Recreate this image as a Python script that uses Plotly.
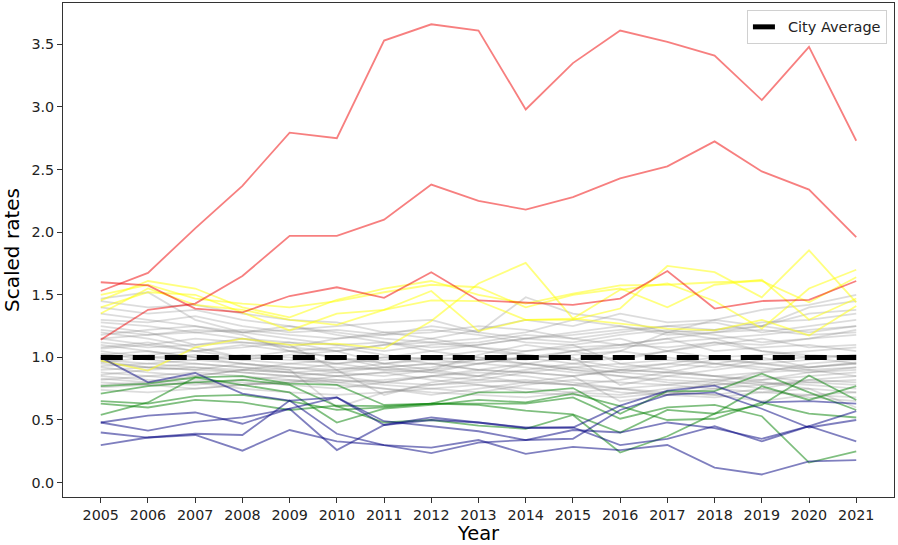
import plotly.graph_objects as go

years = list(range(2005, 2022))

red_series = [
    [1.53, 1.675, 2.03, 2.37, 2.795, 2.75, 3.53, 3.66, 3.61, 2.98, 3.35, 3.61, 3.52, 3.41, 3.055, 3.48, 2.73],
    [1.14, 1.38, 1.43, 1.65, 1.97, 1.97, 2.10, 2.38, 2.25, 2.18, 2.28, 2.43, 2.525, 2.725, 2.485, 2.34, 1.96],
    [1.60, 1.575, 1.39, 1.36, 1.49, 1.56, 1.475, 1.68, 1.455, 1.44, 1.42, 1.47, 1.69, 1.39, 1.45, 1.46, 1.61],
]

yellow_series = [
    [1.455, 1.61, 1.55, 1.40, 1.32, 1.46, 1.55, 1.61, 1.50, 1.43, 1.51, 1.575, 1.58, 1.60, 1.61, 1.44, 1.64],
    [1.40, 1.52, 1.50, 1.36, 1.215, 1.35, 1.38, 1.53, 1.21, 1.30, 1.30, 1.39, 1.73, 1.68, 1.48, 1.855, 1.44],
    [1.35, 1.55, 1.42, 1.38, 1.30, 1.26, 1.38, 1.455, 1.45, 1.30, 1.31, 1.27, 1.23, 1.215, 1.30, 1.175, 1.41],
    [0.975, 0.895, 1.08, 1.15, 1.10, 1.11, 1.07, 1.29, 1.59, 1.755, 1.31, 1.54, 1.59, 1.45, 1.23, 1.55, 1.70],
    [1.50, 1.58, 1.47, 1.43, 1.40, 1.45, 1.52, 1.58, 1.56, 1.40, 1.50, 1.55, 1.40, 1.58, 1.62, 1.30, 1.47],
]

green_series = [
    [0.77, 0.79, 0.84, 0.85, 0.79, 0.78, 0.62, 0.63, 0.72, 0.72, 0.755, 0.55, 0.73, 0.73, 0.87, 0.72, 0.58],
    [0.71, 0.77, 0.80, 0.82, 0.78, 0.61, 0.48, 0.50, 0.455, 0.43, 0.54, 0.24, 0.37, 0.55, 0.62, 0.855, 0.66],
    [0.65, 0.63, 0.69, 0.70, 0.65, 0.58, 0.60, 0.63, 0.63, 0.63, 0.68, 0.51, 0.60, 0.62, 0.53, 0.16, 0.25],
    [0.63, 0.60, 0.66, 0.64, 0.58, 0.615, 0.61, 0.63, 0.62, 0.575, 0.545, 0.40, 0.58, 0.55, 0.77, 0.66, 0.77],
    [0.54, 0.64, 0.84, 0.78, 0.72, 0.48, 0.59, 0.62, 0.66, 0.64, 0.71, 0.61, 0.50, 0.51, 0.64, 0.55, 0.52],
]

blue_series = [
    [1.00, 0.80, 0.875, 0.71, 0.655, 0.68, 0.46, 0.52, 0.48, 0.435, 0.44, 0.615, 0.735, 0.775, 0.64, 0.65, 0.63],
    [0.48, 0.415, 0.485, 0.52, 0.59, 0.68, 0.49, 0.45, 0.41, 0.34, 0.35, 0.58, 0.70, 0.72, 0.59, 0.44, 0.50],
    [0.40, 0.36, 0.39, 0.38, 0.655, 0.39, 0.30, 0.235, 0.32, 0.34, 0.42, 0.40, 0.48, 0.435, 0.35, 0.45, 0.33],
    [0.30, 0.36, 0.38, 0.255, 0.42, 0.33, 0.30, 0.28, 0.34, 0.23, 0.285, 0.26, 0.30, 0.12, 0.065, 0.17, 0.18],
    [0.48, 0.535, 0.56, 0.47, 0.59, 0.26, 0.46, 0.50, 0.48, 0.44, 0.44, 0.30, 0.35, 0.45, 0.33, 0.45, 0.57],
]

gray_series = [
    [1.47, 1.52, 1.30, 1.20, 1.15, 1.10, 1.05, 1.10, 1.12, 1.18, 1.15, 1.20, 1.25, 1.22, 1.28, 1.30, 1.35],
    [1.45, 1.40, 1.42, 1.35, 1.30, 1.28, 1.20, 1.15, 1.22, 1.30, 1.25, 1.35, 1.28, 1.30, 1.38, 1.42, 1.50],
    [1.30, 1.28, 1.33, 1.25, 1.20, 1.22, 1.18, 1.25, 1.20, 1.48, 1.35, 1.30, 1.20, 1.22, 1.25, 1.40, 1.45],
    [1.25, 1.20, 1.10, 1.15, 1.08, 1.05, 0.95, 0.90, 1.02, 1.10, 1.05, 0.98, 1.05, 1.12, 1.10, 1.15, 1.22],
    [1.22, 1.18, 1.20, 1.15, 1.12, 1.10, 1.12, 1.05, 1.00, 0.98, 1.05, 1.10, 1.15, 1.05, 1.08, 1.10, 1.05],
    [1.20, 1.15, 1.08, 1.00, 0.98, 0.95, 1.00, 1.05, 1.10, 1.15, 1.20, 1.25, 1.18, 1.20, 1.22, 1.18, 1.20],
    [1.18, 1.22, 1.25, 1.18, 1.05, 1.00, 0.92, 0.88, 0.95, 1.00, 0.95, 0.90, 0.88, 0.95, 1.00, 0.92, 0.95],
    [1.15, 1.10, 1.05, 1.08, 1.12, 1.05, 1.10, 1.15, 1.08, 1.02, 0.98, 1.05, 1.20, 1.30, 1.25, 1.35, 1.38],
    [1.12, 1.08, 1.10, 1.12, 1.08, 1.15, 1.20, 1.22, 1.18, 1.12, 1.10, 1.15, 1.05, 1.10, 1.15, 1.08, 1.10],
    [1.10, 1.05, 1.00, 0.95, 0.92, 0.88, 0.85, 0.90, 0.95, 0.92, 0.88, 0.85, 0.82, 0.80, 0.88, 0.90, 0.85],
    [1.08, 1.12, 1.05, 1.00, 1.05, 1.08, 1.02, 0.98, 0.95, 1.00, 1.05, 1.08, 1.12, 1.15, 1.05, 1.00, 1.02],
    [1.05, 1.00, 0.98, 1.02, 1.00, 0.95, 0.90, 0.92, 0.98, 1.05, 1.10, 0.95, 0.90, 0.85, 0.88, 0.95, 0.98],
    [1.03, 0.98, 0.95, 0.92, 0.90, 0.95, 0.98, 1.00, 1.05, 1.02, 0.98, 0.92, 0.95, 1.00, 1.02, 1.05, 1.08],
    [1.00, 1.02, 1.05, 1.10, 1.05, 1.00, 0.95, 0.98, 1.00, 0.95, 0.90, 0.88, 0.92, 0.98, 0.95, 0.90, 0.92],
    [0.98, 0.95, 0.92, 0.90, 0.95, 0.98, 1.00, 0.95, 0.90, 0.88, 0.85, 0.90, 0.95, 0.92, 0.98, 1.00, 0.95],
    [0.96, 1.00, 1.02, 0.98, 0.95, 0.92, 0.90, 0.88, 0.85, 0.90, 0.95, 1.00, 1.05, 1.00, 0.95, 0.98, 1.02],
    [0.95, 0.92, 0.90, 0.88, 0.85, 0.82, 0.80, 0.85, 0.90, 0.95, 0.92, 0.88, 0.85, 0.82, 0.78, 0.80, 0.82],
    [0.93, 0.95, 0.98, 0.95, 0.92, 0.90, 0.92, 0.95, 0.98, 1.00, 1.02, 1.05, 1.00, 0.95, 0.92, 0.88, 0.90],
    [0.92, 0.88, 0.85, 0.90, 0.88, 0.85, 0.88, 0.90, 0.85, 0.80, 0.78, 0.82, 0.88, 0.85, 0.82, 0.85, 0.88],
    [0.90, 0.92, 0.95, 0.92, 0.88, 0.90, 0.95, 1.00, 0.98, 0.95, 0.90, 0.85, 0.80, 0.78, 0.82, 0.88, 0.92],
    [0.88, 0.85, 0.82, 0.80, 0.78, 0.75, 0.80, 0.85, 0.82, 0.80, 0.85, 0.90, 0.88, 0.85, 0.80, 0.78, 0.75],
    [0.86, 0.90, 0.92, 0.88, 0.85, 0.88, 0.92, 0.95, 0.90, 0.88, 0.92, 0.95, 0.98, 0.95, 0.90, 0.92, 0.95],
    [0.85, 0.82, 0.80, 0.78, 0.80, 0.82, 0.78, 0.75, 0.72, 0.78, 0.82, 0.80, 0.78, 0.75, 0.78, 0.82, 0.85],
    [0.83, 0.80, 0.78, 0.82, 0.85, 0.80, 0.75, 0.70, 0.75, 0.80, 0.78, 0.72, 0.70, 0.75, 0.72, 0.70, 0.68],
    [0.82, 0.85, 0.88, 0.85, 0.82, 0.80, 0.82, 0.85, 0.88, 0.85, 0.80, 0.75, 0.78, 0.82, 0.85, 0.80, 0.78],
    [0.80, 0.78, 0.75, 0.78, 0.80, 0.85, 0.88, 0.82, 0.78, 0.75, 0.72, 0.70, 0.75, 0.78, 0.80, 0.75, 0.72],
    [0.78, 0.80, 0.85, 0.90, 0.88, 0.85, 0.80, 0.78, 0.80, 0.82, 0.78, 0.75, 0.72, 0.70, 0.65, 0.70, 0.72],
    [0.76, 0.78, 0.80, 0.75, 0.72, 0.70, 0.72, 0.75, 0.78, 0.72, 0.70, 0.68, 0.72, 0.70, 0.75, 0.68, 0.65],
    [0.74, 0.72, 0.75, 0.78, 0.82, 0.78, 0.75, 0.72, 0.70, 0.68, 0.72, 0.75, 0.70, 0.68, 0.72, 0.75, 0.60],
    [1.35, 1.30, 1.25, 1.20, 1.22, 1.25, 1.28, 1.30, 1.20, 1.15, 1.18, 1.22, 1.25, 1.28, 1.20, 1.25, 1.30],
    [1.40, 1.35, 1.38, 1.30, 1.25, 1.20, 1.15, 1.12, 1.15, 1.20, 1.30, 1.25, 1.20, 1.15, 1.18, 1.22, 1.25],
    [1.28, 1.25, 1.20, 1.22, 1.18, 1.15, 1.18, 1.20, 1.25, 1.22, 1.15, 1.10, 1.08, 1.12, 1.05, 1.02, 1.00],
    [1.15, 1.18, 1.22, 1.20, 1.25, 1.18, 1.12, 1.08, 1.10, 1.15, 1.12, 1.18, 1.22, 1.18, 1.12, 1.15, 1.18],
    [1.07, 1.10, 1.15, 1.12, 1.10, 0.90, 0.70, 0.80, 0.85, 0.95, 1.00, 0.78, 0.85, 0.90, 0.95, 0.92, 0.96],
    [0.97, 0.92, 0.90, 0.95, 0.90, 0.60, 0.72, 0.78, 0.82, 0.88, 0.85, 0.65, 0.70, 0.80, 0.75, 0.82, 0.80],
    [1.02, 1.05, 1.00, 0.98, 1.02, 1.05, 1.10, 1.12, 1.08, 1.05, 1.08, 1.10, 1.15, 1.20, 1.25, 1.20, 1.25],
]

city_average = [1.0] * len(years)

y_ticks = [0.0, 0.5, 1.0, 1.5, 2.0, 2.5, 3.0, 3.5]

FONT = "DejaVu Sans"

fig = go.Figure()

def add_group(series_list, color, width=1.8):
    for s in series_list:
        fig.add_trace(go.Scatter(x=years, y=s, mode="lines",
                                 line=dict(color=color, width=width),
                                 showlegend=False, hoverinfo="skip"))

add_group(gray_series, "rgba(128,128,128,0.28)")
add_group(yellow_series, "rgba(255,255,0,0.5)")
add_group(green_series, "rgba(0,128,0,0.5)")
add_group(blue_series, "rgba(0,0,128,0.5)")
add_group(red_series, "rgba(240,0,0,0.5)")

fig.add_trace(go.Scatter(x=years, y=city_average, mode="lines", name="City Average",
                         line=dict(color="black", width=5, dash="22px,10px")))

fig.update_layout(
    width=898, height=545,
    margin=dict(l=63, r=4, t=3, b=48),
    paper_bgcolor="white", plot_bgcolor="white",
    font=dict(family=FONT, size=14, color="#222222"),
    legend=dict(x=0.9915, y=0.986, xanchor="right", yanchor="top",
                bgcolor="white", bordercolor="#d0d0d0", borderwidth=1,
                font=dict(family=FONT, size=14.5, color="#222222")),
    xaxis=dict(range=[2004.2, 2021.8], tickmode="array", tickvals=years,
               ticktext=[str(y) for y in years], showgrid=False, zeroline=False,
               ticks="outside", ticklen=5, tickcolor="#333333",
               showline=True, linecolor="#333333", linewidth=1, mirror=True,
               title=dict(text="Year", font=dict(size=19.5, color="black"), standoff=5),
               tickfont=dict(size=14.3)),
    yaxis=dict(range=[-0.115, 3.83], tickmode="array", tickvals=y_ticks,
               ticktext=[f"{v:.1f}" for v in y_ticks], showgrid=False, zeroline=False,
               ticks="outside", ticklen=5, tickcolor="#333333",
               showline=True, linecolor="#333333", linewidth=1, mirror=True,
               title=dict(text="Scaled rates", font=dict(size=20, color="black"), standoff=7),
               tickfont=dict(size=14.3)),
)

fig.write_html("out.html", config={"displayModeBar": False},
               post_script="document.body.style.margin='0px';document.body.style.overflow='hidden';")
